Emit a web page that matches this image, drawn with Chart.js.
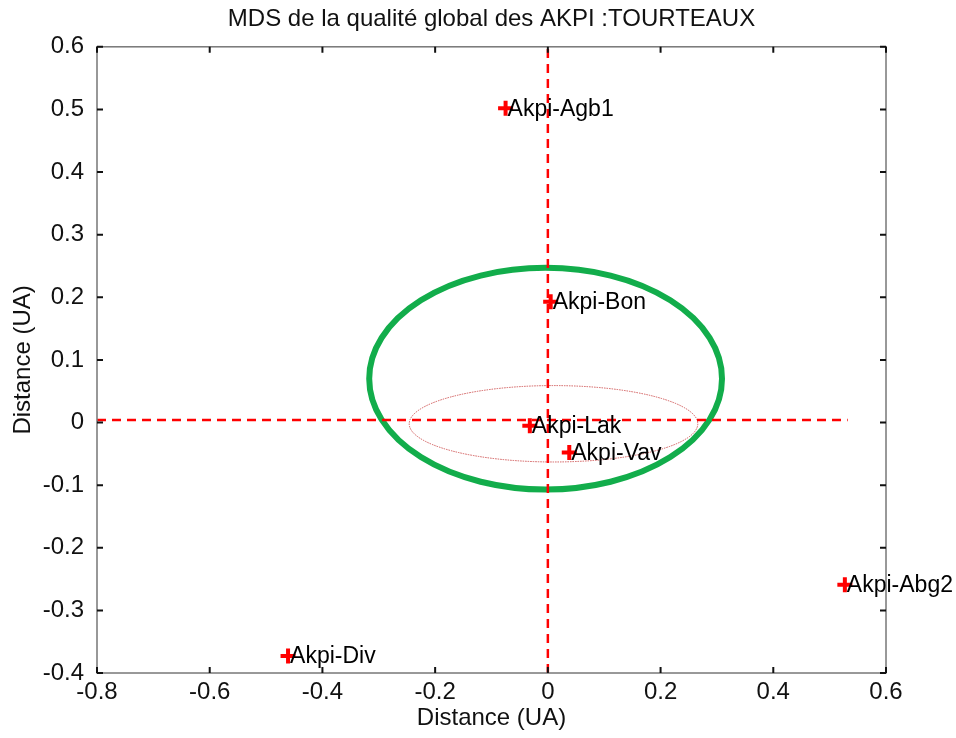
<!DOCTYPE html>
<html>
<head>
<meta charset="utf-8">
<script src="https://cdn.jsdelivr.net/npm/chart.js@4"></script>
<style>
  html, body { margin: 0; padding: 0; background: #fff; }
  #wrap { width: 956px; height: 738px; }
</style>
</head>
<body>
<div id="wrap"><canvas id="mds" width="956" height="738"></canvas></div>
<script>
// donnees
const noms = ['Akpi-Agb1', 'Akpi-Bon', 'Akpi-Lak', 'Akpi-Vav', 'Akpi-Abg2', 'Akpi-Div'];
const distX = [-0.075, 0.005, -0.032, 0.038, 0.527, -0.461];
const distY = [0.502, 0.193, -0.005, -0.048, -0.259, -0.373];

const xTicks = [-0.8, -0.6, -0.4, -0.2, 0, 0.2, 0.4, 0.6];
const yTicks = [-0.4, -0.3, -0.2, -0.1, 0, 0.1, 0.2, 0.3, 0.4, 0.5, 0.6];

// axes en pointilles
const ligneH = { x: [-0.8, 0.532], y: [0.004, 0.004] };
const ligneV = { x: [0, 0], y: [-0.4, 0.6] };

// ellipses : centre x, centre y, rayon x, rayon y
const ellipseVerte = [-0.004, 0.070, 0.313, 0.177];
const ellipseRouge = [0.010, -0.002, 0.256, 0.061];

const police = "'Liberation Sans', Arial, Helvetica, sans-serif";
const rouge = '#ff0000';

function fmt(v) {
    return String(Number(v.toFixed(1)));
}

// dessin des ellipses, cadre, graduations internes et etiquettes
const decorPlugin = {
    id: 'decor',
    afterLayout(chart) {
        // titre centre sur la zone du graphe (comme matlab)
        const t = chart.titleBlock;
        if (t) {
            t.left = chart.chartArea.left;
            t.right = chart.chartArea.right;
        }
    },
    beforeDatasetsDraw(chart) {
        const ctx = chart.ctx;
        const sx = chart.scales.x, sy = chart.scales.y;
        const drawEllipse = (e, color, width, dash) => {
            const cx = sx.getPixelForValue(e[0]);
            const cy = sy.getPixelForValue(e[1]);
            const rx = Math.abs(sx.getPixelForValue(e[0] + e[2]) - cx);
            const ry = Math.abs(sy.getPixelForValue(e[1] + e[3]) - cy);
            ctx.save();
            ctx.strokeStyle = color;
            ctx.lineWidth = width;
            ctx.setLineDash(dash);
            ctx.beginPath();
            ctx.ellipse(cx, cy, rx, ry, 0, 0, Math.PI * 2);
            ctx.stroke();
            ctx.restore();
        };
        drawEllipse(ellipseVerte, '#12ad4b', 6, []);
        drawEllipse(ellipseRouge, '#d05a5a', 1, [1.5, 1]);
    },
    afterDatasetsDraw(chart) {
        const ctx = chart.ctx;
        const a = chart.chartArea;
        const sx = chart.scales.x, sy = chart.scales.y;

        // cadre
        ctx.save();
        ctx.strokeStyle = '#777';
        ctx.lineWidth = 1.5;
        ctx.strokeRect(a.left, a.top, a.right - a.left, a.bottom - a.top);

        // graduations vers l'interieur
        ctx.strokeStyle = '#111';
        ctx.lineWidth = 2;
        const len = 6;
        ctx.beginPath();
        xTicks.forEach(v => {
            const px = sx.getPixelForValue(v);
            ctx.moveTo(px, a.bottom); ctx.lineTo(px, a.bottom - len);
            ctx.moveTo(px, a.top); ctx.lineTo(px, a.top + len);
        });
        yTicks.forEach(v => {
            const py = sy.getPixelForValue(v);
            ctx.moveTo(a.left, py); ctx.lineTo(a.left + len, py);
            ctx.moveTo(a.right, py); ctx.lineTo(a.right - len, py);
        });
        ctx.stroke();

        // noms des points
        const meta = chart.getDatasetMeta(2);
        ctx.fillStyle = '#000';
        ctx.font = '23px ' + police;
        ctx.textAlign = 'left';
        ctx.textBaseline = 'middle';
        meta.data.forEach((pt, i) => {
            ctx.fillText(noms[i], pt.x + 2, pt.y + 1);
        });
        ctx.restore();
    }
};

const ctx = document.getElementById('mds').getContext('2d');
const chart = new Chart(ctx, {
    type: 'scatter',
    data: {
        datasets: [
            {
                data: ligneH.x.map((v, i) => ({ x: v, y: ligneH.y[i] })),
                showLine: true,
                borderColor: rouge,
                borderWidth: 2.5,
                borderDash: [9, 6],
                pointRadius: 0
            },
            {
                data: ligneV.x.map((v, i) => ({ x: v, y: ligneV.y[i] })),
                showLine: true,
                borderColor: rouge,
                borderWidth: 2.5,
                borderDash: [9, 6],
                pointRadius: 0
            },
            {
                data: distX.map((v, i) => ({ x: v, y: distY[i] })),
                pointStyle: 'cross',
                pointRadius: 7.5,
                borderColor: rouge,
                backgroundColor: rouge,
                pointBorderWidth: 4,
                showLine: false,
                clip: false
            }
        ]
    },
    options: {
        responsive: false,
        animation: false,
        devicePixelRatio: 1,
        layout: { padding: { left: 0, right: 70, top: 0, bottom: 0 } },
        plugins: {
            legend: { display: false },
            tooltip: { enabled: false },
            title: {
                display: true,
                text: 'MDS de la qualité global des AKPI :TOURTEAUX',
                color: '#111',
                font: { family: police, size: 24, weight: 'normal' },
                padding: { top: 5, bottom: 13 }
            }
        },
        scales: {
            x: {
                type: 'linear',
                min: -0.8,
                max: 0.6,
                afterBuildTicks: s => { s.ticks = xTicks.map(v => ({ value: v })); },
                afterFit: s => { s.height = 65; },
                grid: { display: false, drawTicks: false },
                border: { display: false },
                ticks: {
                    color: '#111',
                    padding: 5,
                    maxRotation: 0,
                    font: { family: police, size: 24 },
                    callback: v => fmt(v)
                },
                title: {
                    display: true,
                    text: 'Distance (UA)',
                    color: '#111',
                    font: { family: police, size: 24 },
                    padding: { top: 0, bottom: 5 }
                }
            },
            y: {
                type: 'linear',
                min: -0.4,
                max: 0.6,
                afterBuildTicks: s => { s.ticks = yTicks.map(v => ({ value: v })); },
                afterFit: s => { s.width = 97; },
                grid: { display: false, drawTicks: false },
                border: { display: false },
                ticks: {
                    color: '#111',
                    padding: 13,
                    font: { family: police, size: 24 },
                    callback: v => fmt(v)
                },
                title: {
                    display: true,
                    text: 'Distance (UA)',
                    color: '#111',
                    font: { family: police, size: 24 },
                    padding: { top: 9, bottom: 0 }
                }
            }
        }
    },
    plugins: [decorPlugin]
});
</script>
</body>
</html>
